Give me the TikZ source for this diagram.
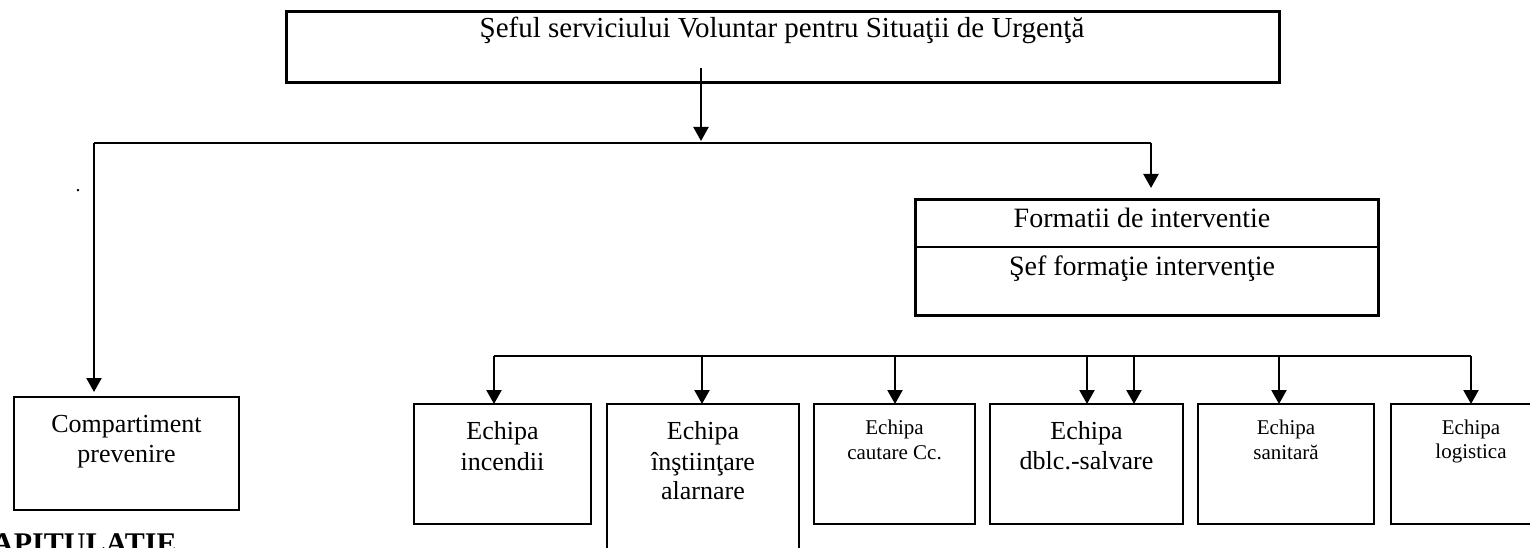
\documentclass[tikz,border=0pt]{standalone}
\usepackage{fontspec}
\setmainfont{Liberation Serif}
\usetikzlibrary{arrows.meta}
\tikzset{
  box/.style={draw, rectangle, line width=2pt, inner sep=0pt, outer sep=0pt},
  heavybox/.style={draw, rectangle, line width=3pt, inner sep=0pt, outer sep=0pt},
  conn/.style={line width=2.3pt},
  arr/.style={conn, -{Triangle[length=14pt,width=15pt]}},
  txt/.style={anchor=base, inner sep=0pt, outer sep=0pt},
  big/.style={txt, font=\fontsize{26}{30}\selectfont},
  small/.style={txt, font=\fontsize{21}{25}\selectfont},
}
\begin{document}
\begin{tikzpicture}[x=1pt, y=-1pt]
\clip (0,0) rectangle (1530,548);
\fill[white] (0,0) rectangle (1530,548);

% boxes
\node[heavybox, minimum width=993pt, minimum height=71pt] (chief) at (782.5,47.5) {};
\node[heavybox, minimum width=463pt, minimum height=116pt] (form) at (1146.5,257) {};
\coordinate (divy) at (0,247);
\draw[line width=2.7pt] (form.west |- divy) -- (form.east |- divy);

\node[box, minimum width=225pt, minimum height=113pt] (comp) at (126.5,453.5) {};
\node[box, minimum width=177pt, minimum height=120pt] (inc) at (502.5,464) {};
\node[box, minimum width=192pt, minimum height=156pt] (ins) at (703,482) {};
\node[box, minimum width=161pt, minimum height=120pt] (caut) at (894.5,464) {};
\node[box, minimum width=193pt, minimum height=120pt] (dblc) at (1086.5,464) {};
\node[box, minimum width=176pt, minimum height=120pt] (san) at (1286,464) {};
\node[box, minimum width=160pt, minimum height=120pt] (log) at (1471,464) {};

% texts
\node[txt, font=\fontsize{29}{35}\selectfont] (tchief) at (782,38) {Şeful serviciului Voluntar pentru Situaţii de Urgenţă};
\node[txt, font=\fontsize{28}{32}\selectfont] (tform1) at (1142,227) {Formatii de interventie};
\node[txt, font=\fontsize{28}{32}\selectfont] (tform2) at (1142,275) {Şef formaţie intervenţie};

\node[big] (tcomp1) at (126.5,432) {Compartiment};
\node[big] (tcomp2) at (126.5,462) {prevenire};

\node[big] (tinc1) at (502.5,439) {Echipa};
\node[big] (tinc2) at (502.5,470) {incendii};

\node[big] (tins1) at (703,439) {Echipa};
\node[big] (tins2) at (703,470) {înştiinţare};
\node[big] (tins3) at (703,499) {alarnare};

\node[small] (tcaut1) at (894.5,434) {Echipa};
\node[small] (tcaut2) at (894.5,459) {cautare Cc.};

\node[big] (tdblc1) at (1086.5,439) {Echipa};
\node[big] (tdblc2) at (1086.5,469) {dblc.-salvare};

\node[small] (tsan1) at (1286,434) {Echipa};
\node[small] (tsan2) at (1286,459) {sanitară};

\node[small] (tlog1) at (1471,434) {Echipa};
\node[small] (tlog2) at (1471,458) {logistica};

\node[anchor=base west, inner sep=0pt, font=\fontsize{30}{34}\selectfont\bfseries] (recap) at (-8,553) {APITULATIE};
\node[txt, font=\fontsize{20}{24}\selectfont] (dot) at (78,192) {.};

% upper connectors
\coordinate (cstart) at (701,68);
\coordinate (cbus) at (701,141);
\coordinate (busL) at (94,143);
\coordinate (busR) at (1151,143);
\draw[arr] (cstart) -- (cbus);
\draw[conn] (busL) -- (busR);
\coordinate (compin) at (94,392);
\draw[arr] (busL) -- (compin);
\coordinate (formin) at (1151,188);
\draw[arr] (busR) -- (formin);

% lower bus
\coordinate (lb1) at (494,356);
\coordinate (lb2) at (702,356);
\coordinate (lb3) at (895,356);
\coordinate (lb4) at (1087,356);
\coordinate (lb5) at (1134,356);
\coordinate (lb6) at (1279,356);
\coordinate (lb7) at (1471,356);
\draw[conn] (lb1) -- (lb7);
\draw[arr] (lb1) -- (lb1 |- inc.north);
\draw[arr] (lb2) -- (lb2 |- ins.north);
\draw[arr] (lb3) -- (lb3 |- caut.north);
\draw[arr] (lb4) -- (lb4 |- dblc.north);
\draw[arr] (lb5) -- (lb5 |- dblc.north);
\draw[arr] (lb6) -- (lb6 |- san.north);
\draw[arr] (lb7) -- (lb7 |- log.north);
\end{tikzpicture}
\end{document}
